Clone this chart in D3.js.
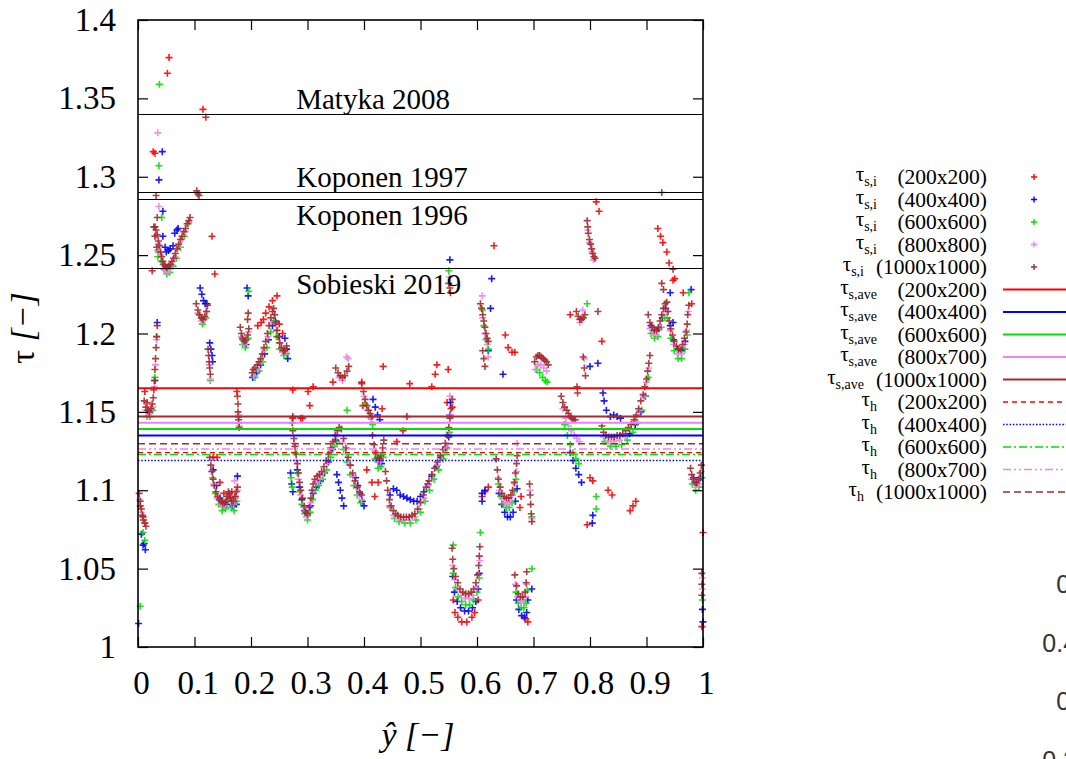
<!DOCTYPE html>
<html>
<head>
<meta charset="utf-8">
<script src="https://d3js.org/d3.v7.min.js"></script>
<style>
body { margin: 0; background: #fff; }
svg { display: block; font-family: "Liberation Serif", "Times New Roman", serif; }
</style>
</head>
<body>
<div id="chart_area"></div>
<script>
// Axis ticks.
var xTicks = [0, 0.1, 0.2, 0.3, 0.4, 0.5, 0.6, 0.7, 0.8, 0.9, 1];
var xTickLabels = ["0", "0.1", "0.2", "0.3", "0.4", "0.5", "0.6", "0.7", "0.8", "0.9", "1"];
var yTicks = [1, 1.05, 1.1, 1.15, 1.2, 1.25, 1.3, 1.35, 1.4];
var yTickLabels = ["1", "1.05", "1.1", "1.15", "1.2", "1.25", "1.3", "1.35", "1.4"];

// Grid names for the legend.
var gridsPoints = ["200x200", "400x400", "600x600", "800x800", "1000x1000"];
var gridsMean = ["200x200", "400x400", "600x600", "800x700", "1000x1000"];

// tau_s,i points [y-hat, tau] for each grid.
var tauS200 = [
	[0.055,1.376],[0.052,1.366],[0.030,1.315],[0.027,1.316],[0.025,1.240],[0.115,1.343],[0.120,1.338],[0.131,1.262],[0.136,1.238],
	[0.016,1.156],[0.012,1.163],[0.009,1.083],[0.004,1.090],
	[0.133,1.121],[0.140,1.121],[0.145,1.105],[0.152,1.098],[0.160,1.097],[0.166,1.099],[0.172,1.096],[0.175,1.163],
	[0.212,1.205],[0.218,1.207],[0.222,1.209],[0.226,1.213],[0.232,1.217],[0.238,1.221],[0.246,1.224],[0.250,1.206],[0.256,1.200],
	[0.274,1.164],[0.274,1.146],[0.288,1.146],[0.291,1.146],[0.301,1.163],[0.310,1.166],[0.304,1.154],[0.345,1.169],
	[0.396,1.169],[0.398,1.154],[0.434,1.179],[0.432,1.152],[0.481,1.168],[0.476,1.147],[0.469,1.138],[0.458,1.131],
	[0.405,1.113],[0.414,1.105],[0.425,1.105],[0.419,1.096],
	[0.520,1.166],[0.526,1.174],[0.529,1.180],[0.549,1.177],[0.547,1.156],[0.556,1.153],
	[0.630,1.256],[0.650,1.199],[0.655,1.191],[0.662,1.188],[0.667,1.188],
	[0.609,1.096],[0.614,1.099],[0.620,1.102],[0.676,1.089],[0.678,1.096],
	[0.558,1.030],[0.561,1.022],[0.566,1.019],[0.573,1.016],[0.582,1.016],[0.591,1.019],[0.596,1.022],[0.602,1.030],
	[0.690,1.016],[0.686,1.018],
	[0.765,1.212],[0.811,1.284],[0.816,1.278],[0.821,1.195],
	[0.800,1.108],[0.805,1.106],[0.795,1.078],[0.832,1.100],[0.839,1.097],[0.871,1.087],[0.876,1.090],[0.881,1.093],
	[0.920,1.267],[0.925,1.262],[0.929,1.258],[0.936,1.252],[0.940,1.245],[0.947,1.241],[0.950,1.235],
	[0.947,1.234],[0.965,1.226],[0.980,1.219],
	[0.998,1.013],[1.000,1.073]
];

var tauS400 = [
	[0.043,1.316],[0.037,1.298],[0.044,1.278],
	[0.001,1.015],[0.013,1.062],[0.009,1.065],[0.011,1.066],[0.006,1.072],
	[0.034,1.207],[0.030,1.170],
	[0.044,1.262],[0.048,1.255],[0.050,1.252],[0.054,1.253],[0.057,1.254],[0.062,1.256],[0.065,1.264],[0.069,1.266],[0.071,1.267],
	[0.110,1.229],[0.113,1.225],[0.116,1.221],[0.119,1.219],[0.122,1.219],
	[0.127,1.194],[0.129,1.190],[0.131,1.186],[0.132,1.182],
	[0.133,1.113],[0.139,1.103],[0.145,1.095],[0.151,1.090],[0.157,1.091],[0.162,1.095],[0.168,1.090],[0.174,1.091],[0.176,1.109],
	[0.178,1.147],[0.193,1.229],[0.195,1.224],[0.186,1.196],[0.191,1.193],
	[0.203,1.172],[0.210,1.175],[0.217,1.180],[0.224,1.187],[0.231,1.196],[0.238,1.205],[0.243,1.208],[0.250,1.198],
	[0.260,1.197],[0.263,1.190],[0.265,1.184],
	[0.270,1.111],[0.272,1.104],[0.274,1.099],[0.282,1.113],[0.286,1.102],[0.290,1.094],[0.295,1.087],[0.300,1.084],[0.305,1.090],
	[0.310,1.098],[0.316,1.102],[0.323,1.106],[0.330,1.111],[0.337,1.118],[0.344,1.126],[0.350,1.132],
	[0.352,1.110],[0.355,1.105],[0.358,1.100],[0.361,1.095],[0.364,1.090],
	[0.385,1.108],[0.389,1.103],[0.393,1.098],[0.397,1.093],[0.400,1.090],
	[0.416,1.158],[0.420,1.153],[0.424,1.148],[0.428,1.145],[0.427,1.118],[0.431,1.117],
	[0.446,1.097],[0.452,1.101],[0.458,1.100],[0.464,1.097],[0.470,1.096],[0.476,1.095],[0.482,1.094],[0.488,1.093],[0.494,1.093],
	[0.500,1.096],[0.506,1.099],[0.513,1.104],[0.520,1.109],[0.528,1.115],[0.536,1.121],[0.544,1.127],[0.550,1.134],
	[0.552,1.247],[0.552,1.148],[0.553,1.156],
	[0.557,1.045],[0.560,1.035],[0.565,1.029],[0.571,1.025],[0.578,1.023],[0.585,1.023],[0.592,1.025],[0.598,1.029],[0.602,1.037],[0.604,1.047],
	[0.626,1.235],[0.624,1.216],[0.620,1.189],[0.646,1.174],
	[0.609,1.098],[0.609,1.093],[0.614,1.100],
	[0.639,1.098],[0.644,1.091],[0.649,1.086],[0.654,1.083],[0.659,1.083],[0.664,1.086],[0.668,1.093],[0.671,1.101],
	[0.670,1.030],[0.674,1.024],[0.679,1.020],[0.684,1.019],[0.688,1.022],[0.690,1.030],[0.697,1.037],
	[0.765,1.124],[0.770,1.119],[0.775,1.114],[0.780,1.110],[0.785,1.105],
	[0.804,1.079],[0.805,1.084],
	[0.823,1.162],[0.825,1.157],[0.829,1.151],[0.836,1.147],[0.842,1.148],[0.848,1.147],[0.854,1.146],
	[0.814,1.181],[0.800,1.179],
	[0.870,1.136],[0.880,1.142],[0.890,1.150],[0.898,1.160],
	[0.908,1.205],[0.914,1.202],[0.922,1.203],[0.928,1.210],[0.934,1.216],[0.942,1.205],[0.948,1.196],[0.955,1.190],[0.962,1.189],[0.968,1.195],
	[0.942,1.226],[0.947,1.207],[0.979,1.228],
	[0.983,1.108],[0.989,1.104],[0.995,1.108],[1.000,1.016],[0.999,1.024]
];

var tauS600 = [
	[0.038,1.359],[0.037,1.307],[0.042,1.274],[0.035,1.249],[0.004,1.026],[0.012,1.068],[0.009,1.073],
	[0.016,1.147],[0.021,1.147],[0.026,1.151],[0.030,1.172],[0.033,1.198],
	[0.036,1.252],[0.041,1.246],[0.046,1.241],[0.051,1.238],[0.056,1.239],[0.062,1.243],[0.068,1.248],[0.075,1.255],[0.082,1.262],[0.089,1.270],
	[0.108,1.212],[0.114,1.206],[0.120,1.210],[0.128,1.170],
	[0.132,1.108],[0.137,1.098],[0.143,1.091],[0.149,1.087],[0.155,1.088],[0.160,1.094],[0.165,1.089],[0.170,1.087],[0.175,1.093],
	[0.178,1.143],
	[0.185,1.193],[0.190,1.191],[0.195,1.197],[0.196,1.227],
	[0.207,1.172],[0.214,1.176],[0.221,1.182],[0.228,1.191],[0.235,1.201],[0.240,1.208],[0.245,1.198],[0.251,1.190],[0.258,1.186],[0.263,1.187],
	[0.271,1.108],[0.273,1.102],
	[0.278,1.124],[0.282,1.111],[0.286,1.099],[0.290,1.091],[0.295,1.085],[0.300,1.081],[0.305,1.086],[0.309,1.094],[0.314,1.100],
	[0.320,1.103],[0.327,1.107],[0.334,1.113],[0.341,1.121],[0.348,1.128],[0.352,1.131],
	[0.370,1.151],
	[0.364,1.126],[0.370,1.118],[0.376,1.110],[0.382,1.103],[0.388,1.097],[0.394,1.092],
	[0.402,1.155],[0.409,1.147],[0.415,1.142],
	[0.420,1.120],[0.425,1.114],[0.430,1.115],[0.434,1.121],
	[0.446,1.089],[0.454,1.082],[0.462,1.080],[0.472,1.079],[0.482,1.079],[0.492,1.081],[0.500,1.086],[0.508,1.093],[0.516,1.100],
	[0.524,1.107],[0.532,1.113],[0.540,1.120],[0.547,1.127],[0.551,1.137],
	[0.550,1.240],[0.558,1.065],
	[0.558,1.047],[0.562,1.038],[0.567,1.032],[0.573,1.029],[0.580,1.027],[0.587,1.027],[0.594,1.030],[0.600,1.035],[0.604,1.044],[0.606,1.073],
	[0.610,1.215],[0.612,1.205],[0.616,1.196],[0.620,1.190],
	[0.638,1.104],[0.642,1.096],[0.647,1.091],[0.652,1.089],[0.657,1.089],[0.662,1.092],[0.666,1.099],[0.669,1.107],
	[0.697,1.083],
	[0.669,1.035],[0.673,1.028],[0.678,1.025],[0.683,1.025],[0.687,1.028],[0.689,1.036],[0.697,1.050],
	[0.706,1.177],[0.711,1.175],[0.716,1.172],[0.721,1.170],[0.724,1.169],
	[0.755,1.142],[0.760,1.135],[0.765,1.129],[0.770,1.124],[0.775,1.120],[0.780,1.117],
	[0.811,1.096],[0.811,1.088],[0.795,1.219],
	[0.826,1.131],[0.836,1.128],[0.846,1.128],[0.856,1.129],[0.866,1.132],[0.876,1.137],[0.884,1.143],[0.892,1.151],[0.898,1.160],[0.903,1.172],
	[0.908,1.200],[0.914,1.197],[0.920,1.198],[0.926,1.204],[0.932,1.210],[0.937,1.210],[0.943,1.197],[0.949,1.189],[0.956,1.184],
	[0.962,1.184],[0.968,1.190],[0.972,1.199],[0.975,1.226],
	[0.981,1.104],[0.987,1.100],[0.993,1.102],[0.998,1.108],[0.999,1.030]
];

var tauS800 = [
	[0.035,1.328],[0.037,1.281],[0.031,1.262],[0.034,1.253],
	[0.003,1.094],[0.006,1.086],[0.009,1.081],[0.012,1.079],
	[0.014,1.151],[0.018,1.148],[0.022,1.149],[0.026,1.153],[0.029,1.166],[0.031,1.180],[0.033,1.196],
	[0.036,1.257],[0.040,1.250],[0.044,1.244],[0.048,1.240],[0.052,1.239],[0.056,1.241],[0.060,1.244],[0.066,1.249],[0.072,1.255],
	[0.078,1.260],[0.084,1.265],[0.090,1.271],
	[0.106,1.213],[0.112,1.208],[0.118,1.209],[0.122,1.214],[0.126,1.180],[0.128,1.171],
	[0.130,1.112],[0.134,1.104],[0.140,1.095],[0.146,1.091],[0.152,1.090],[0.157,1.093],[0.160,1.097],[0.164,1.093],[0.169,1.091],
	[0.173,1.095],[0.176,1.100],[0.171,1.106],
	[0.178,1.148],[0.179,1.141],
	[0.183,1.198],[0.188,1.193],[0.193,1.196],[0.196,1.201],
	[0.205,1.173],[0.212,1.177],[0.218,1.182],[0.224,1.190],[0.230,1.198],[0.236,1.207],[0.241,1.212],[0.245,1.202],[0.250,1.194],
	[0.256,1.188],[0.262,1.188],
	[0.276,1.130],[0.280,1.119],[0.284,1.107],[0.288,1.097],[0.293,1.089],[0.298,1.083],[0.302,1.085],[0.306,1.092],[0.310,1.100],
	[0.316,1.105],[0.322,1.107],[0.328,1.111],[0.334,1.117],[0.340,1.124],[0.346,1.130],[0.352,1.135],
	[0.362,1.130],[0.368,1.123],[0.374,1.116],[0.380,1.109],[0.386,1.102],[0.392,1.097],[0.396,1.094],
	[0.372,1.184],[0.369,1.185],[0.356,1.172],[0.362,1.170],
	[0.400,1.160],[0.406,1.151],[0.412,1.146],
	[0.419,1.125],[0.424,1.118],[0.429,1.118],[0.433,1.124],
	[0.445,1.090],[0.452,1.084],[0.460,1.082],[0.470,1.081],[0.480,1.081],[0.490,1.083],[0.498,1.088],[0.506,1.095],[0.514,1.103],
	[0.522,1.110],[0.530,1.116],[0.538,1.122],[0.545,1.128],[0.550,1.136],[0.553,1.148],[0.552,1.160],
	[0.551,1.236],
	[0.557,1.052],[0.561,1.043],[0.566,1.037],[0.572,1.033],[0.579,1.031],[0.586,1.031],[0.593,1.033],[0.599,1.038],[0.603,1.046],[0.605,1.055],
	[0.609,1.224],[0.610,1.210],[0.614,1.200],[0.618,1.193],[0.620,1.185],
	[0.637,1.108],[0.640,1.100],[0.644,1.095],[0.649,1.092],[0.654,1.091],[0.659,1.093],[0.663,1.097],[0.667,1.104],[0.670,1.112],[0.671,1.130],
	[0.694,1.100],[0.697,1.082],
	[0.668,1.040],[0.672,1.032],[0.677,1.029],[0.682,1.029],[0.686,1.032],[0.688,1.040],
	[0.703,1.177],[0.708,1.180],[0.713,1.180],[0.718,1.178],[0.723,1.176],
	[0.752,1.152],[0.757,1.146],[0.762,1.141],[0.767,1.138],[0.772,1.135],[0.777,1.133],[0.781,1.131],
	[0.790,1.184],[0.787,1.215],[0.782,1.207],
	[0.796,1.266],[0.799,1.258],[0.803,1.252],[0.806,1.247],
	[0.824,1.134],[0.832,1.131],[0.842,1.131],[0.852,1.132],[0.862,1.134],[0.872,1.139],[0.880,1.144],[0.888,1.151],[0.895,1.160],
	[0.900,1.169],[0.904,1.178],
	[0.906,1.203],[0.912,1.199],[0.918,1.199],[0.924,1.204],[0.930,1.212],[0.936,1.214],[0.942,1.202],[0.948,1.193],[0.955,1.187],
	[0.962,1.187],[0.967,1.193],[0.971,1.202],[0.974,1.214],
	[0.980,1.107],[0.986,1.102],[0.992,1.104],[0.997,1.112],[0.999,1.037],[0.999,1.044]
];

var tauS1000 = [
	[0.002,1.098],[0.004,1.093],[0.006,1.088],[0.008,1.084],[0.010,1.081],[0.012,1.079],[0.014,1.077],
	[0.011,1.157],[0.014,1.153],[0.017,1.151],[0.020,1.150],[0.023,1.152],[0.025,1.155],[0.027,1.159],[0.028,1.164],[0.029,1.170],
	[0.030,1.177],[0.031,1.184],[0.032,1.191],[0.033,1.198],[0.034,1.205],
	[0.032,1.288],[0.034,1.274],[0.028,1.268],[0.030,1.262],[0.033,1.255],
	[0.030,1.268],[0.032,1.266],[0.034,1.263],[0.036,1.259],[0.038,1.256],[0.040,1.252],[0.042,1.249],[0.044,1.246],[0.046,1.244],
	[0.048,1.243],[0.051,1.242],[0.054,1.243],[0.057,1.244],[0.060,1.246],[0.063,1.248],[0.066,1.251],[0.069,1.254],[0.072,1.257],
	[0.075,1.260],[0.078,1.262],[0.081,1.265],[0.084,1.267],[0.087,1.270],[0.090,1.272],[0.092,1.274],
	[0.104,1.291],[0.106,1.289],[0.108,1.288],
	[0.103,1.219],[0.106,1.215],[0.109,1.212],[0.112,1.210],[0.115,1.209],[0.118,1.211],[0.121,1.214],[0.123,1.218],
	[0.124,1.190],[0.125,1.186],[0.126,1.182],[0.127,1.178],[0.128,1.174],
	[0.127,1.121],[0.129,1.116],[0.131,1.112],[0.133,1.107],[0.135,1.103],[0.138,1.099],[0.141,1.096],[0.144,1.094],[0.147,1.093],
	[0.150,1.092],[0.153,1.092],[0.156,1.093],[0.158,1.096],[0.160,1.099],[0.162,1.098],[0.164,1.095],[0.166,1.093],[0.169,1.093],
	[0.172,1.096],[0.174,1.099],[0.176,1.102],
	[0.176,1.160],[0.177,1.155],[0.177,1.150],[0.178,1.145],[0.179,1.140],
	[0.181,1.204],[0.183,1.200],[0.185,1.197],[0.188,1.195],[0.191,1.196],[0.194,1.199],[0.196,1.203],[0.194,1.209],[0.195,1.213],
	[0.202,1.175],[0.204,1.177],[0.207,1.178],[0.211,1.180],[0.214,1.182],[0.217,1.184],[0.220,1.187],[0.223,1.191],[0.226,1.195],
	[0.229,1.200],[0.232,1.205],[0.235,1.210],[0.238,1.214],[0.240,1.216],[0.242,1.212],[0.244,1.207],[0.246,1.202],[0.248,1.198],
	[0.251,1.194],[0.254,1.191],[0.257,1.189],[0.260,1.189],[0.263,1.192],
	[0.274,1.147],
	[0.273,1.143],[0.274,1.138],[0.276,1.133],[0.278,1.128],[0.280,1.123],[0.282,1.117],[0.284,1.111],[0.286,1.105],[0.288,1.100],
	[0.291,1.095],[0.294,1.090],[0.297,1.086],[0.300,1.085],[0.303,1.089],[0.306,1.095],[0.308,1.100],[0.310,1.104],[0.313,1.107],
	[0.317,1.109],[0.321,1.110],[0.325,1.112],[0.329,1.115],[0.333,1.119],[0.337,1.123],[0.341,1.127],[0.345,1.131],[0.349,1.135],
	[0.353,1.138],[0.356,1.140],
	[0.360,1.139],[0.364,1.133],[0.368,1.127],[0.372,1.121],[0.376,1.116],[0.380,1.111],[0.384,1.106],[0.388,1.102],[0.392,1.099],[0.396,1.097],
	[0.350,1.178],[0.354,1.175],[0.358,1.173],[0.362,1.172],[0.366,1.173],[0.370,1.176],[0.373,1.179],
	[0.396,1.168],[0.399,1.163],[0.402,1.158],[0.405,1.154],[0.408,1.151],[0.411,1.149],[0.414,1.147],
	[0.415,1.135],[0.418,1.129],[0.421,1.124],[0.424,1.121],[0.427,1.120],[0.430,1.122],[0.433,1.127],[0.435,1.132],
	[0.438,1.112],[0.440,1.106],[0.442,1.100],[0.445,1.094],[0.448,1.090],[0.452,1.087],[0.456,1.085],[0.460,1.084],[0.465,1.083],
	[0.470,1.083],[0.475,1.083],[0.480,1.083],[0.485,1.084],[0.490,1.085],[0.495,1.088],[0.500,1.092],[0.505,1.097],[0.510,1.102],
	[0.515,1.106],[0.520,1.110],[0.525,1.114],[0.530,1.118],[0.535,1.122],[0.540,1.126],[0.544,1.130],[0.548,1.135],[0.550,1.140],
	[0.552,1.146],[0.554,1.152],[0.556,1.158],
	[0.550,1.232],[0.552,1.229],[0.553,1.226],
	[0.556,1.063],[0.557,1.056],[0.559,1.050],[0.562,1.045],[0.566,1.041],[0.570,1.037],[0.575,1.035],[0.580,1.034],[0.585,1.034],
	[0.590,1.035],[0.594,1.037],[0.598,1.041],[0.601,1.046],[0.603,1.052],[0.604,1.058],[0.605,1.064],
	[0.606,1.219],[0.608,1.216],[0.610,1.212],[0.612,1.208],[0.614,1.204],[0.616,1.200],[0.618,1.197],[0.620,1.195],
	[0.610,1.189],[0.612,1.184],[0.614,1.179],
	[0.634,1.120],[0.636,1.113],[0.638,1.107],[0.641,1.102],[0.644,1.098],[0.648,1.096],[0.652,1.095],[0.656,1.095],[0.660,1.097],
	[0.663,1.100],[0.666,1.105],[0.668,1.111],[0.670,1.117],[0.671,1.122],
	[0.693,1.104],[0.694,1.097],[0.695,1.091],[0.696,1.085],[0.697,1.080],
	[0.667,1.046],[0.670,1.039],[0.673,1.034],[0.677,1.032],[0.681,1.032],[0.685,1.035],[0.687,1.041],[0.688,1.048],
	[0.702,1.182],[0.705,1.185],[0.708,1.186],[0.711,1.186],[0.714,1.185],[0.717,1.184],[0.720,1.183],[0.723,1.182],[0.726,1.180],
	[0.749,1.160],[0.752,1.156],[0.755,1.153],[0.759,1.151],[0.762,1.149],[0.765,1.147],[0.768,1.146],[0.771,1.145],[0.774,1.145],
	[0.777,1.166],[0.778,1.162],[0.788,1.185],[0.790,1.178],[0.792,1.173],
	[0.776,1.214],[0.779,1.211],[0.782,1.209],[0.785,1.209],[0.788,1.210],[0.791,1.212],[0.814,1.214],
	[0.795,1.272],[0.796,1.268],[0.797,1.264],[0.799,1.260],[0.801,1.257],[0.803,1.254],[0.805,1.251],[0.807,1.249],[0.809,1.248],
	[0.821,1.141],[0.824,1.137],[0.828,1.135],[0.833,1.134],[0.838,1.134],[0.843,1.134],[0.848,1.135],[0.853,1.135],[0.858,1.136],
	[0.863,1.138],[0.868,1.140],[0.873,1.142],[0.878,1.145],[0.882,1.148],[0.886,1.152],[0.890,1.157],[0.894,1.161],[0.897,1.166],
	[0.900,1.171],[0.902,1.176],[0.904,1.181],[0.906,1.186],
	[0.903,1.212],[0.906,1.207],[0.910,1.204],[0.914,1.202],[0.918,1.202],[0.921,1.204],[0.924,1.208],[0.927,1.212],[0.930,1.216],
	[0.933,1.219],[0.936,1.220],[0.938,1.214],[0.940,1.208],[0.943,1.203],[0.946,1.199],[0.949,1.195],[0.953,1.192],[0.957,1.190],
	[0.961,1.190],[0.964,1.193],[0.967,1.197],[0.970,1.201],[0.972,1.206],[0.973,1.212],[0.975,1.218],
	[0.927,1.232],[0.930,1.228],[0.927,1.290],
	[0.978,1.114],[0.980,1.110],[0.983,1.107],[0.986,1.105],[0.989,1.105],[0.992,1.107],[0.995,1.111],[0.997,1.116],
	[0.998,1.047],[0.998,1.040],[0.998,1.033]
];

// Mean values (solid lines) and hydraulic tortuosity (dashed lines).
var tauAve = [1.165, 1.135, 1.139, 1.143, 1.147];
var tauH = [1.124, 1.119, 1.1228, 1.1263, 1.1297];

// Literature values (black lines).
var refNames = ["Matyka 2008", "Koponen 1997", "Koponen 1996", "Sobieski 2019"];
var refValues = [1.34, 1.29, 1.286, 1.242];

// Tick labels of the neighbouring chart, cut off at the right edge.
var sideTickLabels = ["0.5", "0.45", "0.4", "0.35"];

var pointSeries = [tauS200, tauS400, tauS600, tauS800, tauS1000];
var colors = ["#ff0000", "#0000ff", "#00e000", "#ee82ee", "#a52a2a"];
var hDashes = ["5,4", "1.5,1.8", "8,3,2,3", "8,3,2,3,2,3", "7,4"];

// Frame and canvas.
var frame_width = 1066;
var frame_height = 759;
var plot = {left: 138, right: 703, top: 20, bottom: 647};

var frame = d3.select("#chart_area").append("svg")
	.attr("width", frame_width)
	.attr("height", frame_height);

var xScale = d3.scaleLinear().domain([0, 1]).range([plot.left, plot.right]);
var yScale = d3.scaleLinear().domain([1, 1.4]).range([plot.bottom, plot.top]);

// Scatter points ("+" markers), brown ends on top.
var plus = "M-3.5,0H3.5M0,-3.5V3.5";
pointSeries.forEach(function(series, k) {
	frame.append("g")
		.selectAll("path")
		.data(series)
		.enter().append("path")
		.attr("d", plus)
		.attr("transform", function(d) { return "translate(" + xScale(d[0]) + "," + yScale(d[1]) + ")"; })
		.attr("stroke", colors[k])
		.attr("stroke-width", 1.6)
		.attr("stroke-opacity", 0.9)
		.attr("fill", "none");
});

// Mean lines.
frame.append("g").selectAll("line")
	.data(tauAve)
	.enter().append("line")
	.attr("x1", plot.left).attr("x2", plot.right)
	.attr("y1", function(d) { return yScale(d); })
	.attr("y2", function(d) { return yScale(d); })
	.attr("stroke", function(d, i) { return colors[i]; })
	.attr("stroke-width", 2);

// Hydraulic tortuosity lines.
frame.append("g").selectAll("line")
	.data(tauH)
	.enter().append("line")
	.attr("x1", plot.left).attr("x2", plot.right)
	.attr("y1", function(d) { return yScale(d); })
	.attr("y2", function(d) { return yScale(d); })
	.attr("stroke", function(d, i) { return colors[i]; })
	.attr("stroke-width", 1.4)
	.attr("stroke-dasharray", function(d, i) { return hDashes[i]; });

// Literature lines with their labels.
var refAbove = [true, true, false, false];
var refs = frame.append("g");
refs.selectAll("line")
	.data(refValues)
	.enter().append("line")
	.attr("x1", plot.left).attr("x2", plot.right)
	.attr("y1", function(d) { return Math.round(yScale(d)) + 0.5; })
	.attr("y2", function(d) { return Math.round(yScale(d)) + 0.5; })
	.attr("stroke", "#000")
	.attr("stroke-width", 1.2);
refs.selectAll("text")
	.data(refValues)
	.enter().append("text")
	.attr("x", xScale(0.28))
	.attr("y", function(d, i) { return yScale(d) + (refAbove[i] ? -5 : 26); })
	.attr("font-size", 29)
	.text(function(d, i) { return refNames[i]; });

// Axes: labels on the left and bottom, mirrored ticks on top and right.
var yAxis = d3.axisLeft(yScale)
	.tickValues(yTicks)
	.tickFormat(function(d, i) { return yTickLabels[i]; })
	.tickSizeInner(-10).tickSizeOuter(0).tickPadding(22);
var xAxis = d3.axisBottom(xScale)
	.tickValues(xTicks)
	.tickFormat(function(d, i) { return xTickLabels[i]; })
	.tickSizeInner(-10).tickSizeOuter(0).tickPadding(24);

var gy = frame.append("g").attr("transform", "translate(" + plot.left + ",0)").call(yAxis);
var gx = frame.append("g").attr("transform", "translate(0," + plot.bottom + ")").call(xAxis);
var gy2 = frame.append("g").attr("transform", "translate(" + plot.right + ",0)")
	.call(d3.axisRight(yScale).tickValues(yTicks).tickSizeInner(-10).tickSizeOuter(0).tickFormat(""));
var gx2 = frame.append("g").attr("transform", "translate(0," + plot.top + ")")
	.call(d3.axisTop(xScale).tickValues(xTicks).tickSizeInner(-10).tickSizeOuter(0).tickFormat(""));

[gy, gx, gy2, gx2].forEach(function(g) {
	g.select(".domain").remove();
	g.selectAll("line").attr("stroke", "#000").attr("stroke-width", 1.2);
	g.selectAll("text")
		.attr("font-family", "Liberation Serif, Times New Roman, serif")
		.attr("font-size", 33)
		.attr("fill", "#000");
});
gx.selectAll("text").attr("dx", 3);

// Plot border.
frame.append("rect")
	.attr("x", plot.left).attr("y", plot.top)
	.attr("width", plot.right - plot.left).attr("height", plot.bottom - plot.top)
	.attr("fill", "none").attr("stroke", "#000").attr("stroke-width", 1.6);

// Axis titles.
var ylab = frame.append("text")
	.attr("transform", "translate(34," + 328 + ") rotate(-90)")
	.attr("text-anchor", "middle")
	.attr("font-size", 34);
ylab.append("tspan").text("τ ");
ylab.append("tspan").attr("font-style", "italic").text("[−]");

frame.append("text")
	.attr("x", 418).attr("y", 746)
	.attr("text-anchor", "middle")
	.attr("font-size", 34)
	.attr("font-style", "italic")
	.text("ŷ [−]");

// Legend.
var legendRows = [];
gridsPoints.forEach(function(g, i) { legendRows.push({sub: "s,i", grid: g, color: colors[i], kind: "point"}); });
gridsMean.forEach(function(g, i) { legendRows.push({sub: "s,ave", grid: g, color: colors[i], kind: "line"}); });
gridsMean.forEach(function(g, i) { legendRows.push({sub: "h", grid: g, color: colors[i], kind: "dash", dash: hDashes[i]}); });

var legend = frame.append("g");
legendRows.forEach(function(r, i) {
	var cy = 177 + 22.5 * i;
	var wide = r.grid.length > 8;
	legend.append("text")
		.attr("x", 987).attr("y", cy + 7)
		.attr("text-anchor", "end")
		.attr("font-size", 21.5)
		.text("(" + r.grid + ")");
	var t = legend.append("text")
		.attr("x", wide ? 864 : 877).attr("y", cy + 4)
		.attr("text-anchor", "end")
		.attr("font-size", 21);
	t.append("tspan").text("τ");
	t.append("tspan").attr("font-size", 14).attr("dy", 5).text(r.sub);

	if (r.kind === "point") {
		legend.append("path")
			.attr("d", "M-3,0H3M0,-3V3")
			.attr("transform", "translate(1034," + cy + ")")
			.attr("stroke", r.color).attr("stroke-width", 1.4).attr("fill", "none");
	} else {
		legend.append("line")
			.attr("x1", 1003).attr("x2", 1066)
			.attr("y1", cy).attr("y2", cy)
			.attr("stroke", r.color)
			.attr("stroke-width", r.kind === "line" ? 2 : 1.4)
			.attr("stroke-dasharray", r.kind === "dash" ? r.dash : null);
	}
});

// Cut-off tick labels of the next chart.
frame.append("g").selectAll("text")
	.data(sideTickLabels)
	.enter().append("text")
	.attr("x", 1091)
	.attr("y", function(d, i) { return 593 + 58.5 * i; })
	.attr("text-anchor", "end")
	.attr("font-family", "Liberation Sans, Arial, sans-serif")
	.attr("font-size", 25)
	.attr("fill", "#333")
	.text(function(d) { return d; });
</script>
</body>
</html>
